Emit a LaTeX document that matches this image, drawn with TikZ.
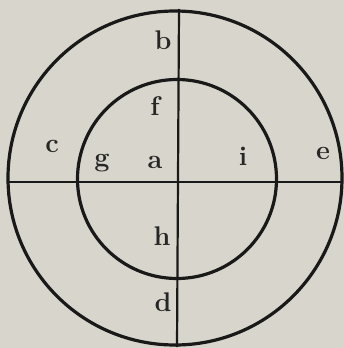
\documentclass[tikz,border=0pt]{standalone}
\begin{document}
\begin{tikzpicture}[x=1pt,y=-1pt,
  ring/.style={draw=black!90,line width=3.2pt,circle,inner sep=0pt},
  axis/.style={draw=black!90,line width=2.2pt},
  lab/.style={font=\fontsize{27}{27}\selectfont\bfseries,text=black!85,inner sep=0pt}]
\fill[fill={rgb,255:red,216;green,214;blue,204}] (0,0) rectangle (344,348);
\useasboundingbox (0,0) rectangle (344,348);
\node[ring,minimum size=334pt] (outer) at (175,178) {};
\node[ring,minimum size=199pt] (inner) at (177,179) {};
\coordinate (top) at (179,9);
\coordinate (bot) at (177,347);
\coordinate (left) at (8,182);
\coordinate (right) at (342,182);
\draw[axis] (top) -- (bot);
\draw[axis] (left) -- (right);
\node[lab] (b) at (163,40) {b};
\node[lab] (f) at (155,106) {f};
\node[lab] (c) at (52,146) {c};
\node[lab] (g) at (102,163) {g};
\node[lab] (a) at (155,162) {a};
\node[lab] (i) at (243,156) {i};
\node[lab] (e) at (323,153) {e};
\node[lab] (h) at (162,236) {h};
\node[lab] (d) at (163,302) {d};
\end{tikzpicture}
\end{document}
